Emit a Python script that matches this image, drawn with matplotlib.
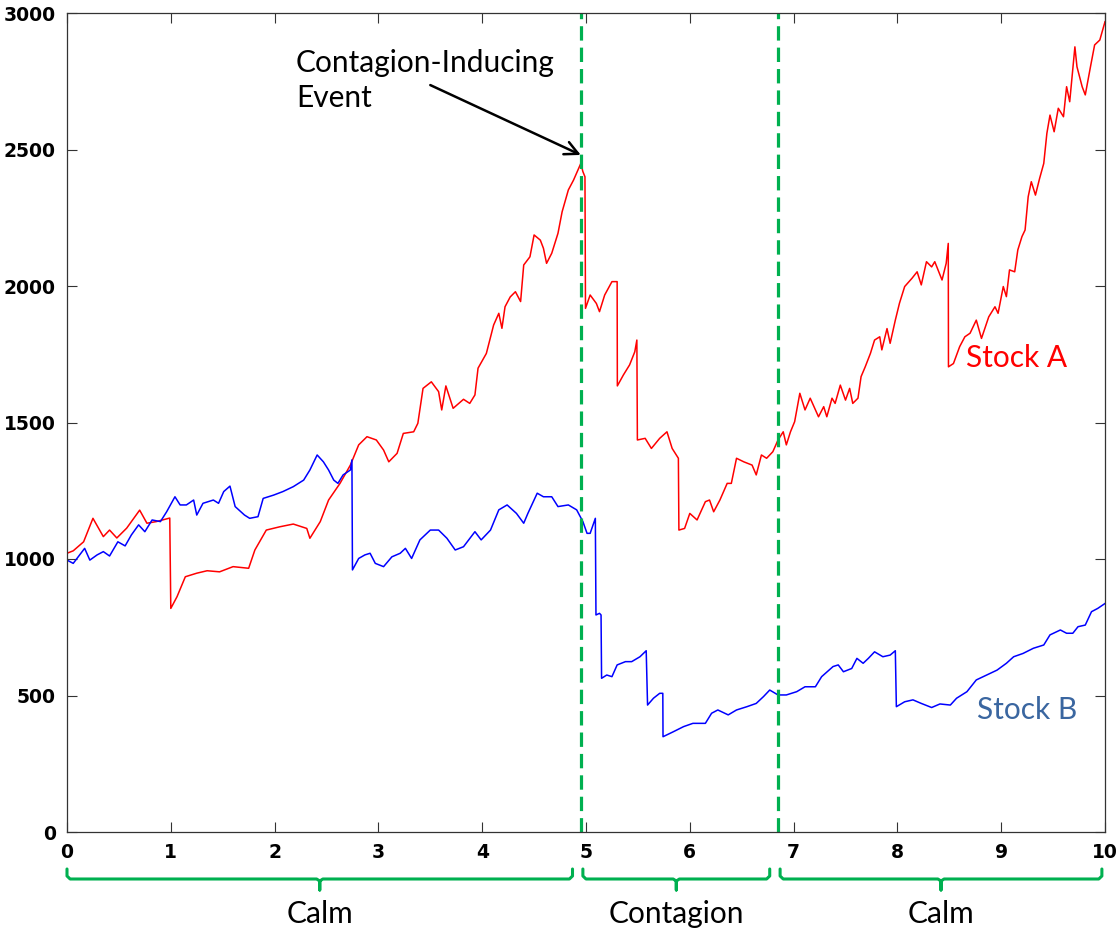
import matplotlib
matplotlib.use("Agg")
import matplotlib.pyplot as plt
import matplotlib.transforms as mtransforms

# ---------------- data ----------------
stock_a_t = [0.00, 0.06, 0.16, 0.25, 0.35, 0.41, 0.48, 0.575, 0.70, 0.77, 0.86, 0.99,
             1.00, 1.06, 1.14, 1.25, 1.35, 1.47, 1.60, 1.75, 1.81, 1.92, 2.05, 2.18,
             2.31, 2.34, 2.44, 2.52, 2.63, 2.73, 2.81, 2.89, 2.98, 3.05, 3.10, 3.18,
             3.24, 3.34, 3.38, 3.43, 3.51, 3.58, 3.61, 3.65, 3.72, 3.82, 3.88, 3.93,
             3.96, 4.04, 4.11, 4.16, 4.19, 4.22, 4.27, 4.32, 4.37, 4.40, 4.46, 4.50,
             4.56, 4.59, 4.62, 4.67, 4.73, 4.77, 4.83, 4.88, 4.93, 4.95, 4.97, 4.99,
             4.995, 5.04, 5.10, 5.13, 5.18, 5.25, 5.30, 5.302, 5.36, 5.42, 5.47, 5.49,
             5.495, 5.57, 5.63, 5.71, 5.78, 5.83, 5.89, 5.895, 5.95, 6.00, 6.07, 6.15,
             6.19, 6.23, 6.29, 6.36, 6.40, 6.45, 6.52, 6.60, 6.64, 6.69, 6.74, 6.80,
             6.85, 6.90, 6.93, 6.97, 7.01, 7.06, 7.11, 7.16, 7.24, 7.29, 7.32, 7.37,
             7.40, 7.45, 7.50, 7.54, 7.57, 7.62, 7.65, 7.69, 7.74, 7.78, 7.83, 7.85,
             7.90, 7.93, 7.98, 8.02, 8.07, 8.14, 8.19, 8.23, 8.28, 8.33, 8.36, 8.43,
             8.47, 8.49, 8.492, 8.54, 8.60, 8.65, 8.70, 8.76, 8.81, 8.88, 8.94, 8.97,
             9.02, 9.05, 9.08, 9.13, 9.16, 9.20, 9.23, 9.26, 9.29, 9.33, 9.37, 9.41,
             9.44, 9.47, 9.51, 9.55, 9.60, 9.63, 9.66, 9.71, 9.73, 9.78, 9.81, 9.86,
             9.90, 9.95, 10.0]
stock_a_v = [1021, 1030, 1063, 1149, 1082, 1106, 1077, 1113, 1179, 1131, 1137, 1150,
             819, 862, 935, 948, 957, 953, 972, 966, 1033, 1106, 1118, 1128,
             1112, 1076, 1137, 1216, 1277, 1344, 1418, 1448, 1436, 1399, 1356, 1387,
             1460, 1466, 1497, 1625, 1649, 1613, 1546, 1634, 1552, 1585, 1570, 1601,
             1699, 1753, 1857, 1900, 1845, 1924, 1960, 1979, 1943, 2077, 2107, 2187,
             2168, 2138, 2083, 2120, 2193, 2272, 2352, 2388, 2431, 2449, 2419, 2400,
             1918, 1967, 1936, 1906, 1967, 2016, 2016, 1634, 1674, 1711, 1759, 1802,
             1436, 1442, 1405, 1442, 1466, 1405, 1369, 1106, 1112, 1167, 1143, 1210,
             1216, 1173, 1216, 1277, 1277, 1369, 1356, 1344, 1308, 1381, 1369, 1393,
             1436, 1466, 1418, 1466, 1503, 1607, 1546, 1589, 1521, 1558, 1521, 1589,
             1570, 1637, 1582, 1625, 1570, 1589, 1668, 1704, 1753, 1802, 1814, 1766,
             1844, 1790, 1875, 1937, 1998, 2028, 2052, 2004, 2089, 2070, 2089, 2022,
             2083, 2156, 1704, 1716, 1778, 1814, 1827, 1875, 1808, 1887, 1924, 1900,
             1998, 1961, 2059, 2052, 2132, 2181, 2205, 2327, 2382, 2333, 2394, 2449,
             2559, 2626, 2565, 2651, 2620, 2730, 2675, 2876, 2803, 2730, 2700, 2803,
             2883, 2901, 2968]

stock_b_t = [0.00, 0.06, 0.17, 0.22, 0.29, 0.35, 0.41, 0.49, 0.56, 0.62, 0.69, 0.75,
             0.82, 0.90, 0.96, 1.04, 1.09, 1.15, 1.22, 1.25, 1.31, 1.41, 1.46, 1.51,
             1.57, 1.62, 1.71, 1.76, 1.84, 1.89, 1.99, 2.08, 2.18, 2.28, 2.34, 2.41,
             2.47, 2.52, 2.57, 2.61, 2.66, 2.73, 2.745, 2.75, 2.81, 2.87, 2.92, 2.97,
             3.05, 3.13, 3.21, 3.26, 3.32, 3.40, 3.50, 3.58, 3.66, 3.74, 3.82, 3.93,
             3.99, 4.08, 4.16, 4.24, 4.33, 4.40, 4.44, 4.53, 4.59, 4.67, 4.73, 4.83,
             4.91, 4.97, 5.01, 5.04, 5.09, 5.096, 5.13, 5.145, 5.15, 5.20, 5.25, 5.30,
             5.38, 5.44, 5.52, 5.58, 5.593, 5.65, 5.71, 5.74, 5.742, 5.84, 5.94, 6.03,
             6.15, 6.21, 6.27, 6.37, 6.45, 6.55, 6.64, 6.71, 6.77, 6.85, 6.93, 7.03,
             7.11, 7.21, 7.27, 7.38, 7.43, 7.48, 7.56, 7.61, 7.67, 7.72, 7.78, 7.86,
             7.93, 7.98, 7.99, 8.07, 8.15, 8.23, 8.33, 8.41, 8.51, 8.57, 8.67, 8.76,
             8.86, 8.96, 9.05, 9.12, 9.21, 9.31, 9.41, 9.47, 9.57, 9.63, 9.69, 9.74,
             9.81, 9.87, 9.93, 10.0]
stock_b_v = [996, 984, 1039, 996, 1015, 1027, 1011, 1063, 1048, 1088, 1125, 1100,
             1143, 1137, 1173, 1228, 1198, 1198, 1216, 1161, 1204, 1216, 1204, 1247,
             1267, 1192, 1161, 1149, 1155, 1222, 1234, 1247, 1265, 1289, 1326, 1381,
             1356, 1326, 1289, 1277, 1308, 1326, 1363, 960, 1002, 1015, 1021, 984,
             972, 1008, 1021, 1039, 1002, 1070, 1106, 1106, 1076, 1033, 1045, 1100,
             1070, 1106, 1180, 1198, 1167, 1131, 1167, 1241, 1228, 1228, 1192, 1198,
             1180, 1137, 1094, 1094, 1149, 795, 801, 795, 563, 575, 569, 612,
             624, 624, 642, 664, 465, 490, 508, 508, 349, 367, 386, 398,
             398, 435, 447, 429, 447, 459, 471, 496, 520, 502, 502, 514,
             532, 532, 569, 606, 612, 587, 599, 636, 618, 636, 660, 642,
             648, 664, 459, 477, 484, 471, 456, 469, 465, 490, 514, 557,
             575, 593, 618, 642, 654, 673, 685, 722, 740, 728, 728, 752,
             758, 807, 819, 837]

x_ticks = [0, 1, 2, 3, 4, 5, 6, 7, 8, 9, 10]
y_ticks = [0, 500, 1000, 1500, 2000, 2500, 3000]
regime_bounds = [4.95, 6.85]
regime_spans = [(0.0, 4.87), (4.97, 6.77), (6.87, 9.97)]
regime_labels = ["Calm", "Contagion", "Calm"]
event_point = (4.95, 2480)
event_text_point = (3.50, 2736)

# ---------------- figure ----------------
W, H = 1119, 934
fig = plt.figure(figsize=(W / 100, H / 100), dpi=100)
ax = fig.add_axes([67 / W, 1 - 832 / H, (1105 - 67) / W, (832 - 13) / H])

RED = "#ff0000"
BLUE = "#0000ff"
GREEN = "#00b050"
TEXT_FONT = ["Lato", "DejaVu Sans"]

ax.plot(stock_a_t, stock_a_v, color=RED, lw=1.1)
ax.plot(stock_b_t, stock_b_v, color=BLUE, lw=1.1)

ax.set_xlim(0, 10)
ax.set_ylim(0, 3000)
ax.set_xticks(x_ticks)
ax.set_yticks(y_ticks)
ax.tick_params(direction="in", top=True, right=True, length=7, width=0.8,
               labelsize=13.5, pad=8, colors="#333333", labelcolor="black")
for lab in ax.get_xticklabels() + ax.get_yticklabels():
    lab.set_family("DejaVu Sans")
    lab.set_weight("bold")
for sp in ax.spines.values():
    sp.set_color("#333333")
    sp.set_linewidth(0.9)

# regime boundaries
for xb in regime_bounds:
    ax.axvline(xb, color=GREEN, lw=2.3, ls=(0, (4.5, 2.2)))

# annotation
ax.text(2.206, 2752, "Contagion-Inducing\nEvent", fontsize=21.5, family=TEXT_FONT,
        ha="left", va="center", linespacing=1.3)
ax.annotate("", xy=event_point, xytext=event_text_point,
            arrowprops=dict(arrowstyle="->", color="black", lw=1.8,
                            mutation_scale=24, shrinkA=0, shrinkB=0))

ax.text(8.66, 1736, "Stock A", color=RED, fontsize=21.5, family=TEXT_FONT,
        ha="left", va="center")
ax.text(8.77, 447, "Stock B", color="#3a66a0", fontsize=21.5, family=TEXT_FONT,
        ha="left", va="center")

# braces below axis (x in data, y in figure pixels from top)
trans = mtransforms.blended_transform_factory(ax.transData, fig.transFigure)
def fy(py):
    return 1 - py / H

for (x0, x1), lab in zip(regime_spans, regime_labels):
    xm = (x0 + x1) / 2
    d = 0.03
    xs = [x0, x0, x0 + d, xm - d, xm, xm, xm, xm + d, x1 - d, x1, x1]
    ys = [869, 876, 879, 879, 881, 890, 881, 879, 879, 876, 869]
    ax.plot(xs, [fy(v) for v in ys], color=GREEN, lw=2.2, transform=trans,
            clip_on=False, solid_joinstyle="round", solid_capstyle="round")
    ax.text(xm, fy(914), lab, fontsize=21.5, family=TEXT_FONT, ha="center",
            va="center", transform=trans)

fig.savefig("out.png", dpi=100)
